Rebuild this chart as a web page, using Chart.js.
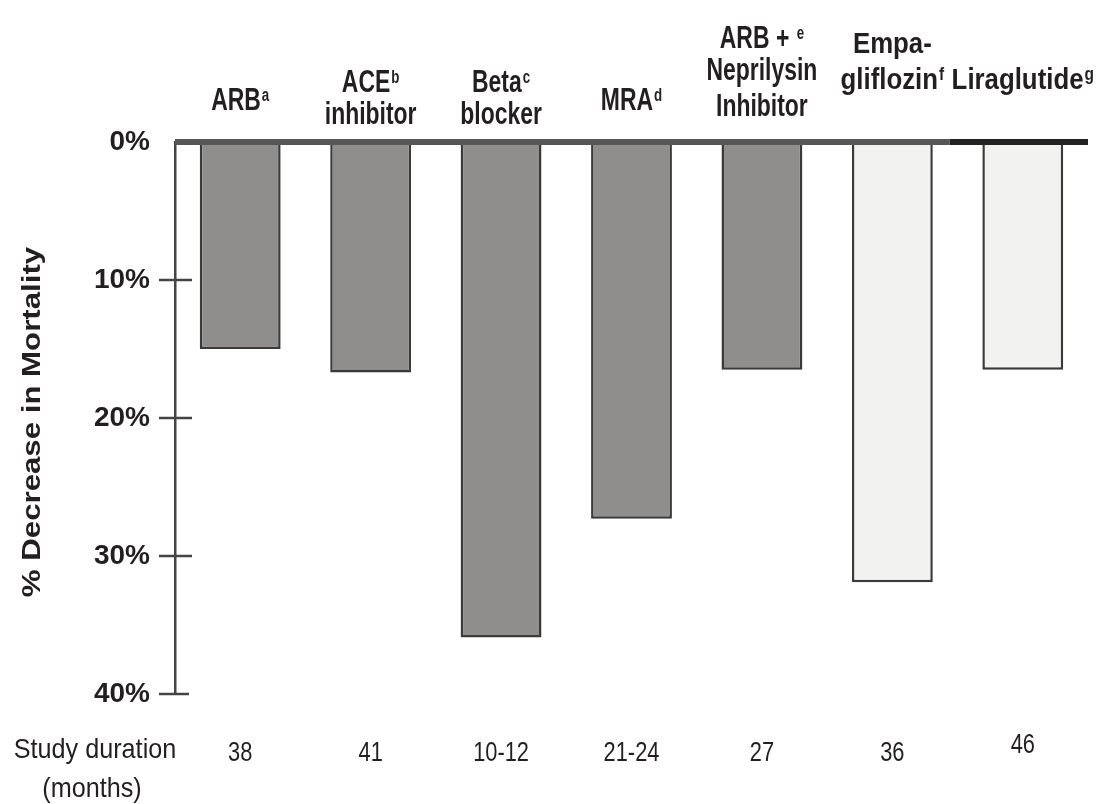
<!DOCTYPE html>
<html>
<head>
<meta charset="utf-8">
<script src="https://cdn.jsdelivr.net/npm/chart.js@4.4.1/dist/chart.umd.min.js"></script>
<style>
  html, body { margin: 0; padding: 0; background: #fff; }
  canvas { display: block; }
</style>
</head>
<body>
<canvas id="chart" width="1113" height="804"></canvas>
<script>
// data
const drugs = ['ARB', 'ACE inhibitor', 'Beta blocker', 'MRA', 'ARB + Neprilysin Inhibitor', 'Empagliflozin', 'Liraglutide']
const labelLines = [['ARB'], ['ACE', 'inhibitor'], ['Beta', 'blocker'], ['MRA'], ['ARB + ', 'Neprilysin', 'Inhibitor'], ['Empa-', 'gliflozin'], ['Liraglutide']]
const footnotes = ['a', 'b', 'c', 'd', 'e', 'f', 'g']
const footnoteLine = [0, 0, 0, 0, 0, 1, 0]
const mortalityDecrease = [15.0, 16.7, 35.9, 27.3, 16.5, 31.9, 16.5]
const durations = ['38', '41', '10-12', '21-24', '27', '36', '46']
const drugGroup = ['heart failure', 'heart failure', 'heart failure', 'heart failure', 'heart failure', 'diabetes', 'diabetes']
const yTicks = [0, 10, 20, 30, 40]

const ink = '#231f20'
const fillFor = { 'heart failure': '#8f8e8c', 'diabetes': '#f2f2f0' }

// layout of the label text (not data)
const labelBase = [[110], [92, 124], [92, 124], [110], [48, 80, 116], [53, 89], [89]]
const labelSx = [0.74, 0.74, 0.74, 0.74, 0.74, 0.86, 0.86]

function stretchText(ctx, s, x, y, font, sx, align) {
    ctx.save()
    ctx.font = font
    const w = ctx.measureText(s).width * sx
    let x0 = x
    if (align == 'center') x0 = x - w / 2
    if (align == 'right') x0 = x - w
    ctx.translate(x0, y)
    ctx.scale(sx, 1)
    ctx.textAlign = 'left'
    ctx.textBaseline = 'alphabetic'
    ctx.fillText(s, 0, 0)
    ctx.restore()
    return w
}

const decor = {
    id: 'decor',
    afterDatasetsDraw(chart) {
        const ctx = chart.ctx
        const xs = chart.scales.x, ys = chart.scales.y
        const area = chart.chartArea
        const y0 = ys.getPixelForValue(0)

        // heavy zero line across the top
        const split = (xs.getPixelForValue(5) + xs.getPixelForValue(6)) / 2 - 8
        ctx.fillStyle = '#575757'
        ctx.fillRect(area.left, y0 - 3, split - area.left, 6)
        ctx.fillStyle = '#222'
        ctx.fillRect(split, y0 - 3, area.right - split, 6)

        // crossing tick marks
        ctx.strokeStyle = '#444'
        ctx.lineWidth = 2.5
        yTicks.forEach(v => {
            if (v == 0) return
            const y = ys.getPixelForValue(v)
            ctx.beginPath()
            ctx.moveTo(area.left - 16, y)
            ctx.lineTo(area.left + (v == 40 ? 14 : 17), y)
            ctx.stroke()
        })

        ctx.fillStyle = ink
        // y title, rotated
        ctx.save()
        ctx.translate(31, (area.top + area.bottom) / 2 + 4)
        ctx.rotate(-Math.PI / 2)
        stretchText(ctx, '% Decrease in Mortality', 0, 9, 'bold 26px "Liberation Sans", Arial, sans-serif', 1.2, 'center')
        ctx.restore()

        // category labels with superscripts
        labelLines.forEach((lines, i) => {
            const cx = xs.getPixelForValue(i)
            const sx = labelSx[i]
            const size = i >= 5 ? 30 : 31
            lines.forEach((line, j) => {
                const y = labelBase[i][j]
                const font = 'bold ' + size + 'px "Liberation Sans", Arial, sans-serif'
                const supFont = 'bold 18px "Liberation Sans", Arial, sans-serif'
                ctx.save()
                ctx.font = font
                const w1 = ctx.measureText(line).width * sx
                let w2 = 0
                if (footnoteLine[i] == j) {
                    ctx.font = supFont
                    w2 = ctx.measureText(footnotes[i]).width * sx + 1
                }
                ctx.restore()
                const x0 = cx - (w1 + w2) / 2
                stretchText(ctx, line, x0, y, font, sx, 'left')
                if (w2) stretchText(ctx, footnotes[i], x0 + w1 + 1, y - 9, supFont, sx, 'left')
            })
        })

        // study durations under the plot
        const numFont = '28px "Liberation Sans", Arial, sans-serif'
        durations.forEach((d, i) => {
            stretchText(ctx, d, xs.getPixelForValue(i), i == 6 ? 753 : 761, numFont, 0.78, 'center')
        })
        stretchText(ctx, 'Study duration', 95, 758, numFont, 0.9, 'center')
        stretchText(ctx, '(months)', 92, 797, numFont, 0.9, 'center')
    }
}

new Chart(document.getElementById('chart'), {
    type: 'bar',
    data: {
        labels: drugs,
        datasets: [{
            data: mortalityDecrease,
            backgroundColor: drugGroup.map(g => fillFor[g]),
            borderColor: '#3a3a3a',
            borderWidth: 2.5,
            barPercentage: 0.62,
            categoryPercentage: 1
        }]
    },
    options: {
        responsive: false,
        devicePixelRatio: 1,
        animation: false,
        layout: { padding: { top: 142, bottom: 110, left: 0, right: 25 } },
        plugins: {
            legend: { display: false },
            tooltip: { enabled: false }
        },
        scales: {
            x: { display: false },
            y: {
                reverse: true,
                min: 0,
                max: 40,
                afterFit: s => { s.width = 175 },
                afterBuildTicks: s => { s.ticks = yTicks.map(v => ({ value: v })) },
                ticks: {
                    callback: v => v + '%',
                    color: ink,
                    padding: 25,
                    font: { family: '"Liberation Sans", Arial, sans-serif', size: 28, weight: 'bold' }
                },
                grid: { display: false, drawTicks: false },
                border: { display: true, color: '#444', width: 2.5 }
            }
        }
    },
    plugins: [decor]
})
</script>
</body>
</html>
